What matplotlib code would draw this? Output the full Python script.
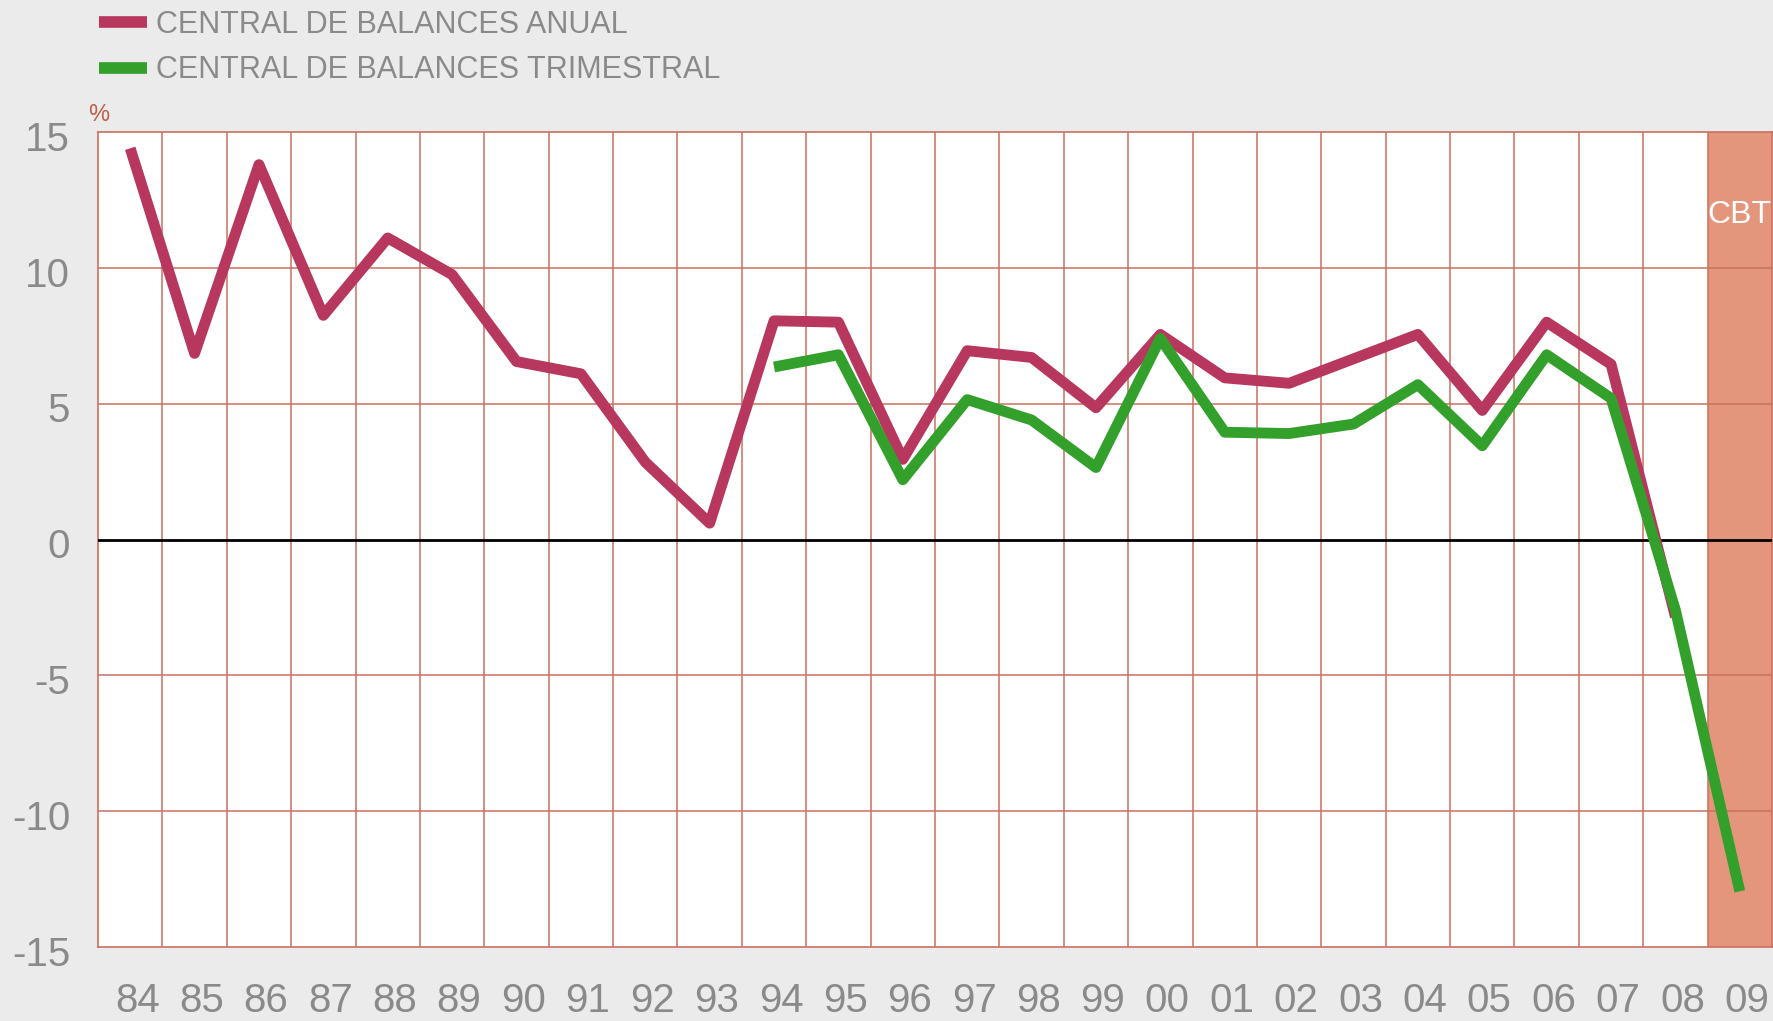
import matplotlib
matplotlib.use("Agg")
import matplotlib.pyplot as plt
import matplotlib.transforms as mtransforms
import numpy as np

# data (% change)
YEARS = ["84", "85", "86", "87", "88", "89", "90", "91", "92", "93", "94", "95", "96",
         "97", "98", "99", "00", "01", "02", "03", "04", "05", "06", "07", "08", "09"]
ANUAL = [14.4, 6.85, 13.8, 8.25, 11.1, 9.75, 6.55, 6.1, 2.85, 0.6, 8.05, 8.0, 2.95,
         6.95, 6.7, 4.85, 7.55, 5.95, 5.75, 6.65, 7.55, 4.75, 8.0, 6.45, -2.85]
TRIMESTRAL = [6.35, 6.8, 2.2, 5.15, 4.4, 2.65, 7.4, 3.95, 3.9, 4.25, 5.7, 3.45, 6.8,
              5.2, -2.6, -12.95]
TRIM_START = 10  # first year of the quarterly series is 94
Y_TICKS = [15, 10, 5, 0, -5, -10, -15]

BG = "#ebebeb"
GRID = "#c9705f"
ANUAL_C = "#b8375e"
TRIM_C = "#33a02c"
CBT_C = "#e4967c"
LABEL_C = "#8a8a8a"
FONT = "Liberation Sans"

W, H = 1774, 1021
fig = plt.figure(figsize=(W / 100, H / 100), dpi=100, facecolor=BG)
ax = fig.add_axes([98 / W, 1 - 947 / H, (1772 - 98) / W, (947 - 132) / H])
ax.set_facecolor("white")

n = len(YEARS)
ax.set_xlim(0, n)
ax.set_ylim(-15, 15)

# shaded CBT column (last year)
ax.axvspan(n - 1, n, color=CBT_C, zorder=1, lw=0)

# grid
for k in range(1, n):
    ax.axvline(k, color=GRID, lw=1.1, zorder=2)
for v in [-10, -5, 5, 10]:
    ax.axhline(v, color=GRID, lw=1.1, zorder=2)
ax.axhline(0, color="black", lw=2, zorder=3)
for s in ax.spines.values():
    s.set_color(GRID)
    s.set_linewidth(1.2)

x = np.arange(n) + 0.5
la, = ax.plot(x[:len(ANUAL)], ANUAL, color=ANUAL_C, lw=7.8, zorder=4,
              solid_joinstyle="round", solid_capstyle="butt",
              label="CENTRAL DE BALANCES ANUAL")
lt, = ax.plot(x[TRIM_START:TRIM_START + len(TRIMESTRAL)], TRIMESTRAL, color=TRIM_C,
              lw=7.8, zorder=5, solid_joinstyle="round", solid_capstyle="butt",
              label="CENTRAL DE BALANCES TRIMESTRAL")

ax.text(n - 0.5, 11.95, "CBT", color="white", fontsize=23, ha="center", va="center",
        family=FONT, zorder=6)

ax.set_xticks(x)
ax.set_xticklabels(YEARS)
ax.set_yticks(Y_TICKS)
ax.set_yticklabels([str(v) for v in Y_TICKS])
ax.tick_params(axis="both", length=0, labelcolor=LABEL_C, labelsize=29)
ax.tick_params(axis="x", pad=25)
ax.tick_params(axis="y", pad=20)
for lab in ax.get_xticklabels() + ax.get_yticklabels():
    lab.set_family(FONT)
xoff = mtransforms.ScaledTranslation(5 / 72, 0, fig.dpi_scale_trans)
for lab in ax.get_xticklabels():
    lab.set_transform(lab.get_transform() + xoff)
yoff = mtransforms.ScaledTranslation(0, -2.7 / 72, fig.dpi_scale_trans)
for lab in ax.get_yticklabels():
    lab.set_transform(lab.get_transform() + yoff)

ax.text(-10 / (1772 - 98), 1 + 11 / (947 - 132), "%", transform=ax.transAxes,
        color="#c0604a", fontsize=17, ha="left", va="baseline", family=FONT)

leg = fig.legend(handles=[la, lt], loc="upper left", bbox_to_anchor=(96 / W, 1 - 7 / H),
                 frameon=False, fontsize=22, handlelength=1.58, handletextpad=0.28,
                 labelspacing=0.5, borderpad=0.1, borderaxespad=0)
for t in leg.get_texts():
    t.set_color(LABEL_C)
    t.set_family(FONT)
for h in leg.legend_handles:
    h.set_linewidth(8.4)

fig.savefig("out.png", dpi=100, facecolor=BG)
